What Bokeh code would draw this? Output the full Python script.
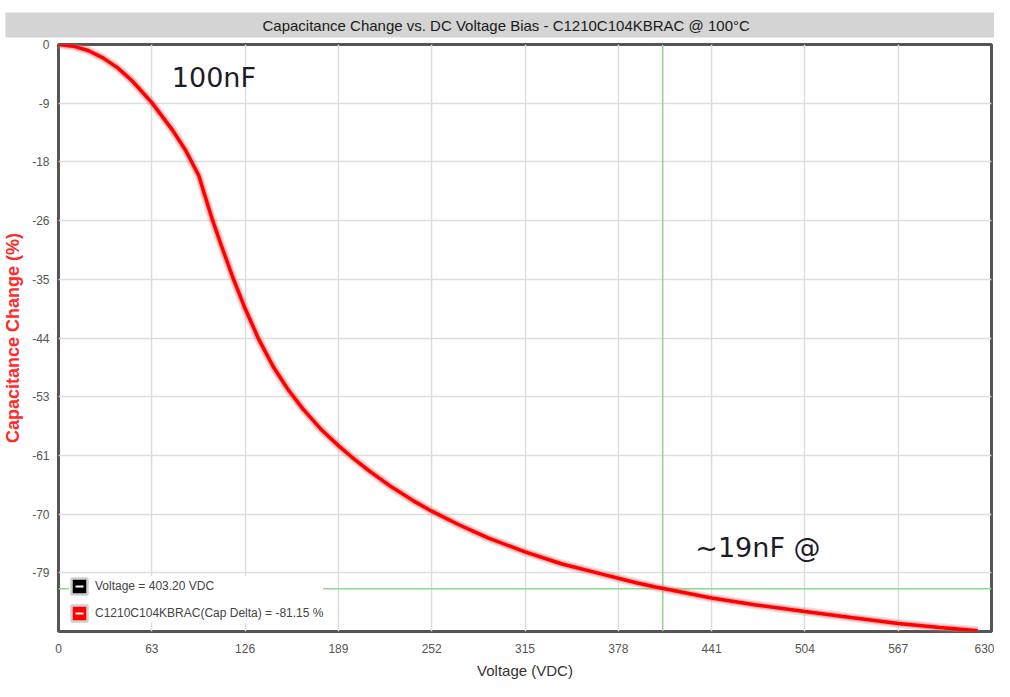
import math
from bokeh.plotting import figure
from bokeh.models import (FixedTicker, Span, Legend, LegendItem, ColumnDataSource, Range1d, Title)
from bokeh.core.properties import value
from bokeh.embed import file_html
from bokeh.resources import INLINE

# ---------------- data ----------------
voltage = [0, 10, 20, 30, 40, 50, 63, 77, 86, 94.7,
           99, 103.6, 110, 118, 126, 135, 145, 155, 165, 177, 189, 198, 210, 225, 240,
           252, 270, 290, 315, 340, 365, 390, 403.2, 441, 470, 504, 535, 567, 595, 620.7]
cap_change = [0, -0.25, -0.9, -2.0, -3.5, -5.5, -8.7, -12.8, -15.9, -19.6,
              -22.7, -26.0, -30.1, -35.0, -39.5, -44.0, -48.2, -51.6, -54.5, -57.5, -60.0,
              -61.7, -63.8, -66.2, -68.3, -69.8, -71.8, -73.8, -75.9, -77.7, -79.1, -80.5,
              -81.15, -82.8, -83.8, -84.8, -85.7, -86.6, -87.2, -87.7]

x_ticks = [0, 63, 126, 189, 252, 315, 378, 441, 504, 567, 630]
y_ticks = [0, -8.78, -17.56, -26.34, -35.12, -43.9, -52.68, -61.46, -70.24, -79.02, -87.8]
y_tick_labels = ["0", "-9", "-18", "-26", "-35", "-44", "-53", "-61", "-70", "-79", ""]

# cursor read-out (legend) and where the cursor cross-hair sits on the picture
cursor_voltage = 403.20
cursor_cap = -81.15
crosshair_v = 408.0
crosshair_c = -81.4

title_text = "Capacitance Change vs. DC Voltage Bias - C1210C104KBRAC @ 100\u00b0C"
legend_labels = ["Voltage = %.2f VDC" % cursor_voltage,
                 "C1210C104KBRAC(Cap Delta) = %.2f %%" % cursor_cap]

note_text = ["100nF", "~19nF @"]
note_x = [76.5, 430]
note_y = [-4.9, -75.2]

# ---------------- figure ----------------
FONT = "Liberation Sans"

p = figure(width=994, height=681, output_backend="svg", toolbar_location=None,
           x_range=Range1d(0, 630), y_range=Range1d(-87.8, 0),
           min_border_left=58, min_border_right=3, min_border_top=44, min_border_bottom=50)

title = Title(text=title_text, align="left", vertical_align="top", offset=-53, text_font=FONT,
              text_font_size="15px", text_font_style="normal", text_color="#1a1a1a",
              background_fill_color="#d4d4d4",
              padding=dict(left=257, right=246, top=4, bottom=4), standoff=10)
p.add_layout(title, "above")

p.background_fill_color = "white"
p.border_fill_color = "white"
p.outline_line_color = "#555555"
p.outline_line_width = 3

# axes
xax = p.below[0]
yax = p.left[0]
xax.ticker = FixedTicker(ticks=x_ticks)
yax.ticker = FixedTicker(ticks=y_ticks)
yax.major_label_overrides = {t: l for t, l in zip(y_ticks, y_tick_labels)}
for ax in (xax, yax):
    ax.axis_line_color = None
    ax.major_tick_line_color = None
    ax.minor_tick_line_color = None
    ax.major_tick_out = 0
    ax.major_tick_in = 0
    ax.minor_tick_out = 0
    ax.minor_tick_in = 0
    ax.major_label_text_font = FONT
    ax.major_label_text_font_size = "12px"
    ax.major_label_text_color = "#555555"
    ax.major_label_standoff = 9
xax.major_label_standoff = 12
xax.axis_label = "Voltage (VDC)"
xax.axis_label_text_font = FONT
xax.axis_label_text_font_size = "15px"
xax.axis_label_text_font_style = "normal"
xax.axis_label_text_color = "#333333"
xax.axis_label_standoff = 6

yax.axis_label = "Capacitance Change (%)"
yax.axis_label_text_font = FONT
yax.axis_label_text_font_size = "18px"
yax.axis_label_text_font_style = "bold"
yax.axis_label_text_color = "#ff2a2a"
yax.axis_label_standoff = 6

p.xgrid.grid_line_color = "#dddddd"
p.ygrid.grid_line_color = "#dddddd"
p.xgrid.grid_line_width = 1.5
p.ygrid.grid_line_width = 1.5

# cursor lines
vspan = Span(location=crosshair_v, dimension="height", line_color="#8fd88f",
             line_width=1.5, level="underlay")
hspan = Span(location=crosshair_c, dimension="width", line_color="#8fd88f",
             line_width=1.5, level="underlay")
p.add_layout(vspan)
p.add_layout(hspan)

# curve with soft glow
src = ColumnDataSource(dict(v=voltage, c=cap_change))
p.line("v", "c", source=src, line_color="#c08080", line_width=9, line_alpha=0.25)
p.line("v", "c", source=src, line_color="#e88080", line_width=6, line_alpha=0.5)
p.line("v", "c", source=src, line_color="#ff0000", line_width=3.5)

# annotations
p.text(x=note_x, y=note_y, text=note_text, text_font=value("DejaVu Sans"),
       text_font_size="27px", text_color="#1c1c28", text_baseline="middle", text_align="left")

# legend swatches (renderers hold only NaN, so nothing shows on the plot itself)
nan_src = ColumnDataSource(dict(x0=[math.nan], x1=[math.nan], y0=[math.nan], y1=[math.nan]))
sw_black = p.quad(left="x0", right="x1", bottom="y0", top="y1", source=nan_src,
                  fill_color="black", line_color="#d0d0d0", line_width=2.5)
sw_red = p.quad(left="x0", right="x1", bottom="y0", top="y1", source=nan_src,
                fill_color="#ff0000", line_color="#d0d0d0", line_width=2.5)
dash1 = p.scatter("x0", "y0", source=nan_src, marker="dash", size=6, line_color="white", line_width=2)
dash2 = p.scatter("x0", "y0", source=nan_src, marker="dash", size=6, line_color="white", line_width=2)

legend = Legend(items=[LegendItem(label=legend_labels[0], renderers=[sw_black, dash1]),
                       LegendItem(label=legend_labels[1], renderers=[sw_red, dash2])],
                location=(11, 8))
legend.label_text_font = FONT
legend.label_text_font_size = "12px"
legend.label_text_color = "#444444"
legend.glyph_width = 20
legend.glyph_height = 20
legend.label_standoff = 6
legend.spacing = 7
legend.padding = 6
legend.margin = 0
legend.border_line_color = None
legend.background_fill_color = "white"
legend.background_fill_alpha = 1.0
p.add_layout(legend)

open("out.html", "w").write(file_html(p, INLINE))
